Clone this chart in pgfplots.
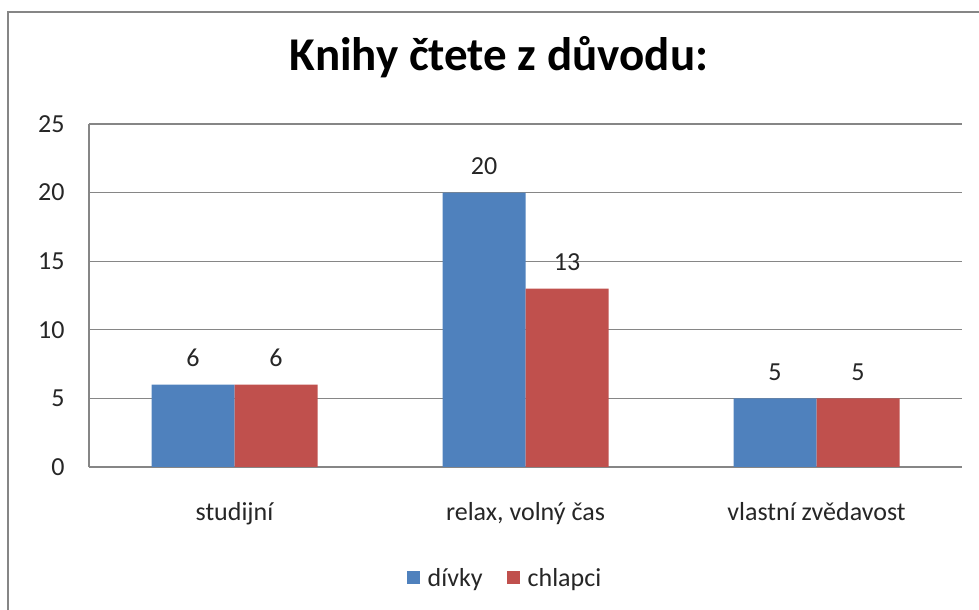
\documentclass[border=0pt]{standalone}
\usepackage{fontspec}
\setmainfont{Carlito}
\usepackage{pgfplots}
\pgfplotsset{compat=1.18}

\definecolor{xlBlue}{RGB}{79,129,189}
\definecolor{xlRed}{RGB}{192,80,77}
\definecolor{xlGrid}{RGB}{134,134,134}

\newcommand{\tickfont}{\fontsize{26bp}{31bp}\selectfont}

\begin{document}
\begin{tikzpicture}
  \useasboundingbox (0,0) rectangle (979bp,610bp);
  % outer chart frame (cropped at right and bottom)
  \draw[xlGrid, line width=2bp] (7.5bp,-20bp) -- (7.5bp,597.5bp) -- (1000bp,597.5bp);
  % title
  \node[anchor=base, font=\fontsize{47bp}{56bp}\selectfont\bfseries]
    at (499bp,539bp) {Knihy čtete z důvodu:};

  \begin{axis}[
    at={(89bp,143bp)}, anchor=south west,
    scale only axis,
    width=873bp, height=343bp,
    ybar=0pt,
    bar width=83bp,
    xmin=-0.5, xmax=2.5,
    ymin=0, ymax=25,
    ytick={0,5,...,25},
    xtick=data,
    xticklabels={studijní,{relax, volný čas},vlastní zvědavost},
    axis x line*=bottom,
    axis y line*=left,
    axis line style={xlGrid, line width=1.3bp},
    major tick length=0pt,
    ymajorgrids,
    major grid style={xlGrid, line width=1.3bp},
    tick label style={font=\tickfont, text=black!85},
    /pgf/number format/assume math mode=true,
    yticklabel style={xshift=-21bp},
    xticklabel style={yshift=-32bp},
    nodes near coords,
    nodes near coords style={font=\tickfont, text=black!85, yshift=14bp},
    legend columns=2,
    legend style={at={(0.4765,-0.3236)}, anchor=center, draw=none, fill=none,
      font=\tickfont, text=black!85,
      /tikz/every odd column/.append style={column sep=6bp},
      /tikz/every even column/.append style={column sep=22bp}},
    legend image code/.code={\fill[#1] (0bp,-6.5bp) rectangle (13bp,6.5bp);},
  ]
    \addplot[fill=xlBlue, draw=none] coordinates {(0,6) (1,20) (2,5)};
    \addplot[fill=xlRed, draw=none] coordinates {(0,6) (1,13) (2,5)};
    \legend{dívky,chlapci}
  \end{axis}
\end{tikzpicture}
\end{document}
